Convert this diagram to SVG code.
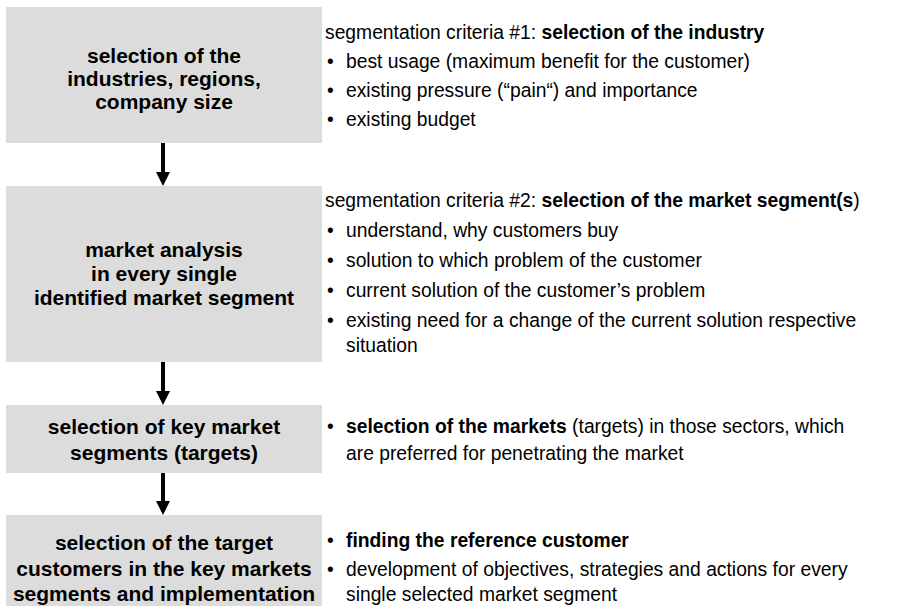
<svg xmlns="http://www.w3.org/2000/svg" width="913" height="606" viewBox="0 0 913 606">
<defs>
<style>
.box{fill:#dcdcdc;}
.bt{font-family:"Liberation Sans",Arial,sans-serif;font-size:21px;font-weight:bold;fill:#000;text-anchor:middle;}
.rt{font-family:"Liberation Sans",Arial,sans-serif;font-size:19.3px;fill:#000;}
.b{font-weight:bold;}
.shaft{stroke:#000;stroke-width:4;fill:none;}
.head{fill:#000;}
</style>
</defs>
<rect width="913" height="606" fill="#fff"/>
<g id="node1">
<rect class="box" x="6" y="7" width="316" height="136"/>
<text class="bt" x="164" y="63">selection of the</text>
<text class="bt" x="164" y="86">industries, regions,</text>
<text class="bt" x="164" y="109">company size</text>
</g>
<g id="node2">
<rect class="box" x="6" y="186" width="316" height="176"/>
<text class="bt" x="164" y="257">market analysis</text>
<text class="bt" x="164" y="281">in every single</text>
<text class="bt" x="164" y="305">identified market segment</text>
</g>
<g id="node3">
<rect class="box" x="6" y="405" width="316" height="68"/>
<text class="bt" x="164" y="434">selection of key market</text>
<text class="bt" x="164" y="460">segments (targets)</text>
</g>
<g id="node4">
<rect class="box" x="6" y="515" width="316" height="95"/>
<text class="bt" x="164" y="550">selection of the target</text>
<text class="bt" x="164" y="576">customers in the key markets</text>
<text class="bt" x="164" y="601">segments and implementation</text>
</g>
<g id="connectors">
<line class="shaft" x1="163" y1="143" x2="163" y2="173"/>
<polygon class="head" points="156,172 170,172 163,186"/>
<line class="shaft" x1="163" y1="362" x2="163" y2="392"/>
<polygon class="head" points="156,391 170,391 163,405"/>
<line class="shaft" x1="163" y1="473" x2="163" y2="502"/>
<polygon class="head" points="156,501 170,501 163,515"/>
</g>
<g id="text1">
<text class="rt" x="325" y="39">segmentation criteria #1: <tspan class="b">selection of the industry</tspan></text>
<text class="rt" x="327" y="68">•</text><text class="rt" x="346" y="68">best usage (maximum benefit for the customer)</text>
<text class="rt" x="327" y="97">•</text><text class="rt" x="346" y="97">existing pressure (“pain“) and importance</text>
<text class="rt" x="327" y="126">•</text><text class="rt" x="346" y="126">existing budget</text>
</g>
<g id="text2">
<text class="rt" x="325" y="207">segmentation criteria #2: <tspan class="b">selection of the market segment(s</tspan>)</text>
<text class="rt" x="327" y="237">•</text><text class="rt" x="346" y="237">understand, why customers buy</text>
<text class="rt" x="327" y="267">•</text><text class="rt" x="346" y="267">solution to which problem of the customer</text>
<text class="rt" x="327" y="297">•</text><text class="rt" x="346" y="297">current solution of the customer’s problem</text>
<text class="rt" x="327" y="327">•</text><text class="rt" x="346" y="327">existing need for a change of the current solution respective</text>
<text class="rt" x="346" y="352">situation</text>
</g>
<g id="text3">
<text class="rt" x="327" y="433">•</text><text class="rt" x="346" y="433"><tspan class="b">selection of the markets</tspan> (targets) in those sectors, which</text>
<text class="rt" x="346" y="460">are preferred for penetrating the market</text>
</g>
<g id="text4">
<text class="rt" x="327" y="547">•</text><text class="rt b" x="346" y="547">finding the reference customer</text>
<text class="rt" x="327" y="576">•</text><text class="rt" x="346" y="576">development of objectives, strategies and actions for every</text>
<text class="rt" x="346" y="601">single selected market segment</text>
</g>
</svg>
